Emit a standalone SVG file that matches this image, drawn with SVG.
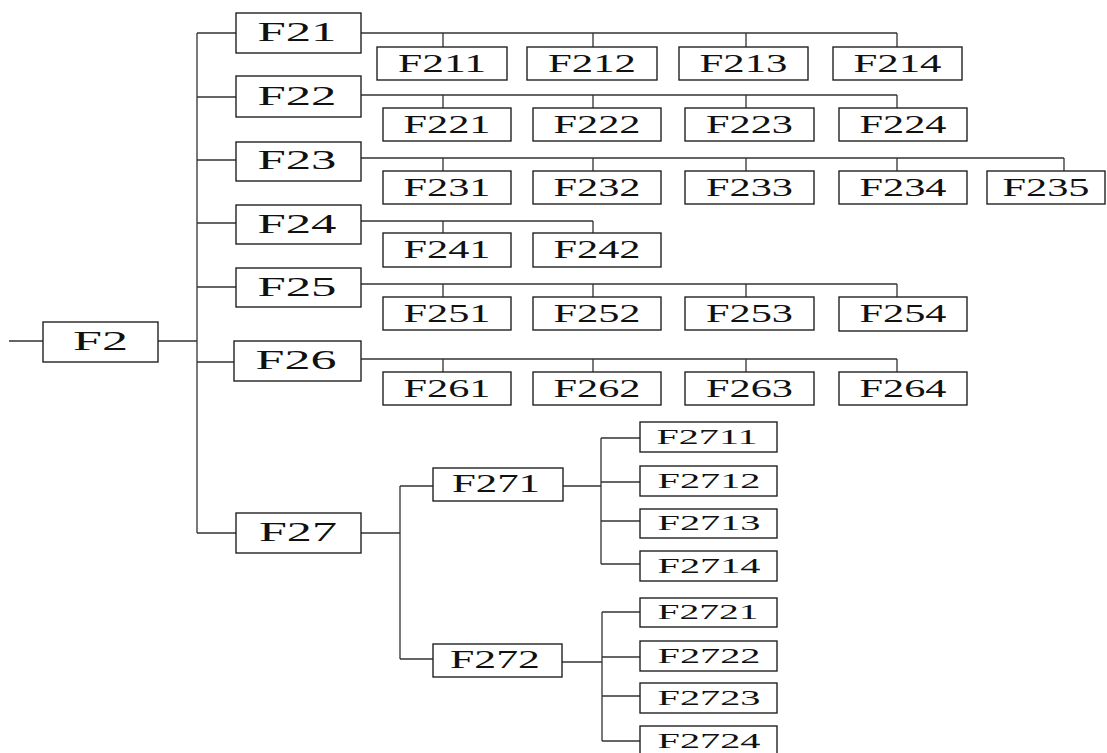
<svg xmlns="http://www.w3.org/2000/svg" width="1107" height="753" viewBox="0 0 1107 753">
<style>
rect{fill:#fff;stroke:#222;stroke-width:1.4}
text{font-family:"Liberation Serif","Times New Roman",serif;fill:#111;text-anchor:middle}
.l2{font-size:27px}
.l3{font-size:25px}
.l4{font-size:21px}
#connectors path{fill:none;stroke:#333;stroke-width:1.3}
</style>
<rect x="0" y="0" width="1107" height="753" style="fill:#fff;stroke:none"/>
<g id="connectors">
<path d="M9 341H43M158 341H197M197 33V533M197 33H236M197 97H236M197 160H236M197 223H236M197 287H236M197 362H234M197 533H236"/>
<path d="M361 33H897M443 33V47M593 33V47M746 33V47M897 33V47"/>
<path d="M361 95H897M443 95V108M593 95V108M746 95V108M897 95V108"/>
<path d="M361 158H1064M443 158V171M593 158V171M746 158V171M897 158V171M1064 158V171"/>
<path d="M361 221H593M443 221V233M593 221V233"/>
<path d="M361 284H897M443 284V297M593 284V297M746 284V297M897 284V297"/>
<path d="M361 359H897M443 359V372M593 359V372M746 359V372M897 359V372"/>
<path d="M361 533H400M400 486V659M400 486H433M400 659H433"/>
<path d="M563 486H601M601 438V564M601 438H640M601 482H640M601 521H640M601 564H640"/>
<path d="M562 662H602M602 612V741M602 612H640M602 657H640M602 696H640M602 741H640"/>
</g>
<g id="F2"><rect x="43" y="322" width="115" height="40"/><text class="l2" x="100.5" y="350" textLength="55" lengthAdjust="spacingAndGlyphs">F2</text></g>
<g id="F21"><rect x="236" y="13" width="125" height="40"/><text class="l2" x="297" y="41" textLength="79" lengthAdjust="spacingAndGlyphs">F21</text></g>
<g id="F22"><rect x="236" y="76" width="125" height="41"/><text class="l2" x="297" y="105" textLength="79" lengthAdjust="spacingAndGlyphs">F22</text></g>
<g id="F23"><rect x="236" y="142" width="125" height="39"/><text class="l2" x="297" y="169" textLength="79" lengthAdjust="spacingAndGlyphs">F23</text></g>
<g id="F24"><rect x="236" y="205" width="125" height="39"/><text class="l2" x="297" y="233" textLength="79" lengthAdjust="spacingAndGlyphs">F24</text></g>
<g id="F25"><rect x="236" y="268" width="125" height="39"/><text class="l2" x="297" y="296" textLength="79" lengthAdjust="spacingAndGlyphs">F25</text></g>
<g id="F26"><rect x="234" y="341" width="127" height="40"/><text class="l2" x="296" y="369" textLength="81" lengthAdjust="spacingAndGlyphs">F26</text></g>
<g id="F27"><rect x="236" y="513" width="125" height="40"/><text class="l2" x="298" y="541" textLength="78" lengthAdjust="spacingAndGlyphs">F27</text></g>
<g id="F211"><rect x="377" y="47" width="130" height="33"/><text class="l3" x="442" y="72" textLength="88" lengthAdjust="spacingAndGlyphs">F211</text></g>
<g id="F212"><rect x="527" y="47" width="130" height="33"/><text class="l3" x="592" y="72" textLength="88" lengthAdjust="spacingAndGlyphs">F212</text></g>
<g id="F213"><rect x="679" y="47" width="129" height="33"/><text class="l3" x="743.5" y="72" textLength="88" lengthAdjust="spacingAndGlyphs">F213</text></g>
<g id="F214"><rect x="833" y="47" width="129" height="33"/><text class="l3" x="897.5" y="72" textLength="88" lengthAdjust="spacingAndGlyphs">F214</text></g>
<g id="F221"><rect x="383" y="108" width="128" height="33"/><text class="l3" x="447" y="133" textLength="87" lengthAdjust="spacingAndGlyphs">F221</text></g>
<g id="F222"><rect x="533" y="108" width="128" height="33"/><text class="l3" x="597" y="133" textLength="87" lengthAdjust="spacingAndGlyphs">F222</text></g>
<g id="F223"><rect x="685" y="108" width="129" height="33"/><text class="l3" x="749.5" y="133" textLength="87" lengthAdjust="spacingAndGlyphs">F223</text></g>
<g id="F224"><rect x="839" y="108" width="128" height="33"/><text class="l3" x="903" y="133" textLength="87" lengthAdjust="spacingAndGlyphs">F224</text></g>
<g id="F231"><rect x="383" y="171" width="128" height="33"/><text class="l3" x="447" y="196" textLength="87" lengthAdjust="spacingAndGlyphs">F231</text></g>
<g id="F232"><rect x="533" y="171" width="128" height="33"/><text class="l3" x="597" y="196" textLength="87" lengthAdjust="spacingAndGlyphs">F232</text></g>
<g id="F233"><rect x="685" y="171" width="129" height="33"/><text class="l3" x="749.5" y="196" textLength="87" lengthAdjust="spacingAndGlyphs">F233</text></g>
<g id="F234"><rect x="839" y="171" width="128" height="33"/><text class="l3" x="903" y="196" textLength="87" lengthAdjust="spacingAndGlyphs">F234</text></g>
<g id="F235"><rect x="987" y="171" width="118" height="33"/><text class="l3" x="1046" y="196" textLength="87" lengthAdjust="spacingAndGlyphs">F235</text></g>
<g id="F241"><rect x="383" y="233" width="128" height="34"/><text class="l3" x="447" y="258" textLength="87" lengthAdjust="spacingAndGlyphs">F241</text></g>
<g id="F242"><rect x="533" y="233" width="128" height="34"/><text class="l3" x="597" y="258" textLength="87" lengthAdjust="spacingAndGlyphs">F242</text></g>
<g id="F251"><rect x="383" y="297" width="128" height="33"/><text class="l3" x="447" y="322" textLength="87" lengthAdjust="spacingAndGlyphs">F251</text></g>
<g id="F252"><rect x="533" y="297" width="128" height="33"/><text class="l3" x="597" y="322" textLength="87" lengthAdjust="spacingAndGlyphs">F252</text></g>
<g id="F253"><rect x="685" y="297" width="129" height="33"/><text class="l3" x="749.5" y="322" textLength="87" lengthAdjust="spacingAndGlyphs">F253</text></g>
<g id="F254"><rect x="839" y="297" width="128" height="34"/><text class="l3" x="903" y="322" textLength="87" lengthAdjust="spacingAndGlyphs">F254</text></g>
<g id="F261"><rect x="383" y="372" width="128" height="33"/><text class="l3" x="447" y="397" textLength="87" lengthAdjust="spacingAndGlyphs">F261</text></g>
<g id="F262"><rect x="533" y="372" width="128" height="33"/><text class="l3" x="597" y="397" textLength="87" lengthAdjust="spacingAndGlyphs">F262</text></g>
<g id="F263"><rect x="685" y="372" width="129" height="33"/><text class="l3" x="749.5" y="397" textLength="87" lengthAdjust="spacingAndGlyphs">F263</text></g>
<g id="F264"><rect x="839" y="372" width="128" height="33"/><text class="l3" x="903" y="397" textLength="87" lengthAdjust="spacingAndGlyphs">F264</text></g>
<g id="F271"><rect x="433" y="468" width="130" height="33"/><text class="l3" x="496" y="492" textLength="88" lengthAdjust="spacingAndGlyphs">F271</text></g>
<g id="F272"><rect x="433" y="644" width="129" height="33"/><text class="l3" x="495" y="668" textLength="90" lengthAdjust="spacingAndGlyphs">F272</text></g>
<g id="F2711"><rect x="640" y="422" width="137" height="30"/><text class="l4" x="707" y="444" textLength="101" lengthAdjust="spacingAndGlyphs">F2711</text></g>
<g id="F2712"><rect x="640" y="466" width="137" height="30"/><text class="l4" x="709" y="488" textLength="103" lengthAdjust="spacingAndGlyphs">F2712</text></g>
<g id="F2713"><rect x="640" y="509" width="137" height="29"/><text class="l4" x="709" y="530" textLength="103" lengthAdjust="spacingAndGlyphs">F2713</text></g>
<g id="F2714"><rect x="640" y="551" width="137" height="30"/><text class="l4" x="709" y="573" textLength="103" lengthAdjust="spacingAndGlyphs">F2714</text></g>
<g id="F2721"><rect x="640" y="598" width="137" height="29"/><text class="l4" x="708" y="619" textLength="101" lengthAdjust="spacingAndGlyphs">F2721</text></g>
<g id="F2722"><rect x="640" y="641" width="137" height="30"/><text class="l4" x="709" y="663" textLength="103" lengthAdjust="spacingAndGlyphs">F2722</text></g>
<g id="F2723"><rect x="640" y="683" width="137" height="30"/><text class="l4" x="709" y="705" textLength="103" lengthAdjust="spacingAndGlyphs">F2723</text></g>
<g id="F2724"><rect x="640" y="726" width="137" height="30"/><text class="l4" x="709" y="748" textLength="103" lengthAdjust="spacingAndGlyphs">F2724</text></g>
</svg>
